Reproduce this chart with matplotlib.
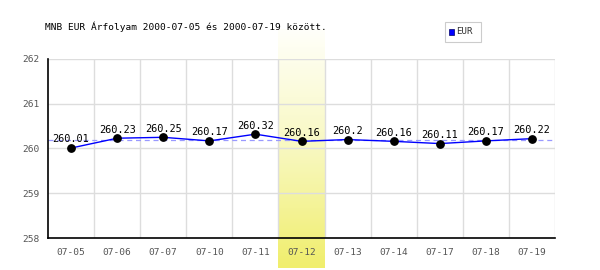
import numpy as np
import matplotlib
matplotlib.use("Agg")
import matplotlib.pyplot as plt
from matplotlib.patches import Rectangle

# data
dates = ["07-05", "07-06", "07-07", "07-10", "07-11", "07-12",
         "07-13", "07-14", "07-17", "07-18", "07-19"]
rates = [260.01, 260.23, 260.25, 260.17, 260.32, 260.16,
         260.2, 260.16, 260.11, 260.17, 260.22]
labels = ["260.01", "260.23", "260.25", "260.17", "260.32", "260.16",
          "260.2", "260.16", "260.11", "260.17", "260.22"]
highlight = "07-12"
y_ticks = [258, 259, 260, 261, 262]

plt.rcParams["font.family"] = "DejaVu Sans Mono"

fig = plt.figure(figsize=(6, 2.7), dpi=100)
ax = fig.add_axes([0.08, 0.1185, 0.845, 0.663])

x = np.arange(len(dates))

# highlighted column with gradient (white at top -> yellow at bottom)
hi = dates.index(highlight)
grad = np.linspace(0, 1, 256).reshape(-1, 1)
cmap = matplotlib.colors.LinearSegmentedColormap.from_list(
    "hl", ["#fffffa", "#f8f8c0", "#f0ee6c"])
ax.imshow(grad, extent=(hi - 0.5, hi + 0.5, 257.33, 262.65),
          aspect="auto", cmap=cmap, origin="upper", zorder=0,
          clip_on=False)
ax.set_xlim(-0.5, len(dates) - 0.5)
ax.set_ylim(258, 262)

# grid
for b in np.arange(0.5, len(dates), 1.0):
    ax.axvline(b, color="#dddddd", lw=1, zorder=1)
for t in y_ticks[1:]:
    ax.axhline(t, color="#dddddd", lw=1, zorder=1)

# average line
avg = np.mean(rates)
ax.axhline(avg, color="#9999ff", lw=0.9, ls=(0, (4, 3)), zorder=2)

ax.plot(x, rates, color="#0000ff", lw=1, zorder=3)
ax.scatter(x, rates, s=28, color="black", zorder=4)
for xi, v, lab in zip(x, rates, labels):
    ax.text(xi, v + 0.08, lab, ha="center", va="bottom", fontsize=7.4,
            color="black", zorder=5)

ax.set_xticks(x)
ax.set_xticklabels(dates)
ax.set_yticks(y_ticks)
ax.tick_params(axis="both", length=0, labelsize=6.8, colors="#555555",
               pad=6)
ax.tick_params(axis="x", pad=7)
for s in ["top", "right"]:
    ax.spines[s].set_visible(False)
ax.spines["left"].set_color("black")
ax.spines["bottom"].set_color("black")
ax.spines["left"].set_linewidth(1.2)
ax.spines["bottom"].set_linewidth(1.2)
ax.patch.set_alpha(0)

fig.text(45 / 600, 1 - 27 / 270, "MNB EUR Árfolyam 2000-07-05 és 2000-07-19 között.",
         fontsize=6.8, ha="left", va="center", color="black")

# legend box
fig.patches.append(Rectangle((445 / 600, 1 - 42 / 270), 36 / 600, 20 / 270,
                             transform=fig.transFigure, facecolor="white",
                             edgecolor="#cccccc", lw=0.8))
fig.patches.append(Rectangle((449 / 600, 1 - 35 / 270), 5 / 600, 6 / 270,
                             transform=fig.transFigure, facecolor="#0000ff",
                             edgecolor="#000066", lw=0.5))
fig.text(456 / 600, 1 - 32 / 270, "EUR", fontsize=6.6, ha="left", va="center",
         color="#333333")

fig.savefig("out.png", dpi=100)
